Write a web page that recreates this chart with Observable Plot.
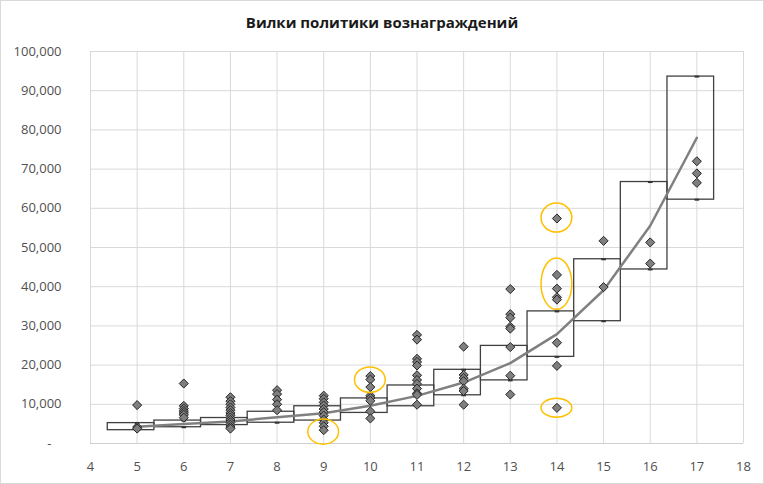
<!DOCTYPE html>
<html>
<head>
<meta charset="utf-8">
<script src="https://cdn.jsdelivr.net/npm/d3@7"></script>
<script src="https://cdn.jsdelivr.net/npm/@observablehq/plot@0.6"></script>
<style>
  html, body { margin: 0; padding: 0; background: #fff; }
  #chart { width: 764px; height: 484px; box-sizing: border-box; border: 1px solid #d9d9d9; position: relative; overflow: hidden; }
  #title { height: 39px; line-height: 42px; text-align: center; font-family: "Open Sans", sans-serif; font-weight: bold; font-size: 15px; color: #1a1a1a; }
  #chart svg { display: block; }
</style>
</head>
<body>
<div id="chart"><div id="title">Вилки политики вознаграждений</div></div>
<script>
// Grades (x) and pay-range boxes
const grades   = [5, 6, 7, 8, 9, 10, 11, 12, 13, 14, 15, 16, 17];
const rangeMin = [3400, 4150, 4700, 5300, 5850, 7800, 9500, 12300, 16100, 22100, 31200, 44400, 62200];
const rangeMax = [5200, 5850, 6500, 8100, 9500, 11500, 14800, 18800, 24900, 33700, 47000, 66700, 93600];
const midpoint = [4300, 5000, 5600, 6700, 7700, 9650, 12150, 15550, 20500, 27900, 39100, 55550, 78000];

// Employee salaries per grade
const salaries = {
  5:  [9800, 4200, 3800],
  6:  [15300, 9600, 8900, 8300, 7800, 7300, 6600],
  7:  [11800, 10800, 10000, 9200, 8500, 7800, 7200, 6600, 6000, 5400, 4800, 4200, 3800],
  8:  [13600, 12600, 11200, 10000, 8500],
  9:  [12200, 11400, 10500, 9700, 8800, 8000, 7100, 6100, 5300, 4400, 3400],
  10: [17200, 16300, 14400, 12200, 11600, 10900, 8200, 6400],
  11: [27700, 26500, 21600, 20800, 19900, 17400, 16200, 15200, 14000, 12800, 12400, 9900],
  12: [24700, 17500, 16700, 15900, 14000, 13400, 9900],
  13: [39400, 33000, 32100, 29800, 29300, 24600, 17300, 12500],
  14: [57400, 43000, 39500, 37300, 36700, 25700, 19800, 9100],
  15: [51700, 39900],
  16: [51300, 45900],
  17: [72000, 68900, 66500]
};

// Highlighted outliers (grade, value span)
const highlightGrade = [9, 10, 14, 14, 14];
const highlightLow   = [-300, 12900, 53800, 34100, 6600];
const highlightHigh  = [6100, 19400, 61200, 47200, 11400];

const xTicks = [4, 5, 6, 7, 8, 9, 10, 11, 12, 13, 14, 15, 16, 17, 18];
const yTicks = [0, 10000, 20000, 30000, 40000, 50000, 60000, 70000, 80000, 90000, 100000];

const boxes = grades.map((g, i) => ({grade: g, lo: rangeMin[i], hi: rangeMax[i], mid: midpoint[i]}));
const points = Object.entries(salaries).flatMap(([g, vals]) => vals.map(v => ({grade: +g, value: v})));
const ends = boxes.flatMap(b => [{grade: b.grade, value: b.lo}, {grade: b.grade, value: b.hi}]);
const highlights = highlightGrade.map((g, i) => ({grade: g, lo: highlightLow[i], hi: highlightHigh[i]}));

const fmt = d3.format(",");
const chart = Plot.plot({
  width: 764 - 2,
  height: 444 - 2,
  marginLeft: 89,
  marginRight: 20,
  marginTop: 11,
  marginBottom: 39,
  style: {fontFamily: "Open Sans, sans-serif", fontSize: "13px", color: "#505050", background: "transparent"},
  x: {domain: [4, 18], ticks: xTicks, tickSize: 0, tickPadding: 18, label: null},
  y: {domain: [0, 100000], ticks: yTicks, tickSize: 0, tickPadding: 29, label: null,
      tickFormat: d => d === 0 ? "-\u00a0\u00a0\u00a0" : fmt(d)},
  marks: [
    Plot.gridX(xTicks, {stroke: "#d9d9d9", strokeOpacity: 1}),
    Plot.gridY(yTicks, {stroke: "#d9d9d9", strokeOpacity: 1}),
    Plot.ruleY([0], {stroke: "#cfcfcf"}),
    Plot.rect(boxes, {x1: d => d.grade - 0.63, x2: d => d.grade + 0.37, y1: "lo", y2: "hi",
      fill: "none", stroke: "#404040", strokeWidth: 1.3}),
    Plot.line(boxes, {x: "grade", y: "mid", stroke: "#808080", strokeWidth: 2.5}),
    Plot.link(ends, {x1: d => d.grade - 0.05, x2: d => d.grade + 0.05, y1: "value", y2: "value",
      stroke: "#333", strokeWidth: 2}),
    Plot.dot(points, {x: "grade", y: "value", symbol: "diamond2", r: 4.1,
      fill: "#7f7f7f", stroke: "#262626", strokeWidth: 1}),
    Plot.rect(highlights, {x1: d => d.grade - 0.33, x2: d => d.grade + 0.33, y1: "lo", y2: "hi",
      rx: 200, ry: 200, fill: "none", stroke: "#ffc000", strokeWidth: 1.5})
  ]
});
document.getElementById("chart").appendChild(chart);
</script>
</body>
</html>
